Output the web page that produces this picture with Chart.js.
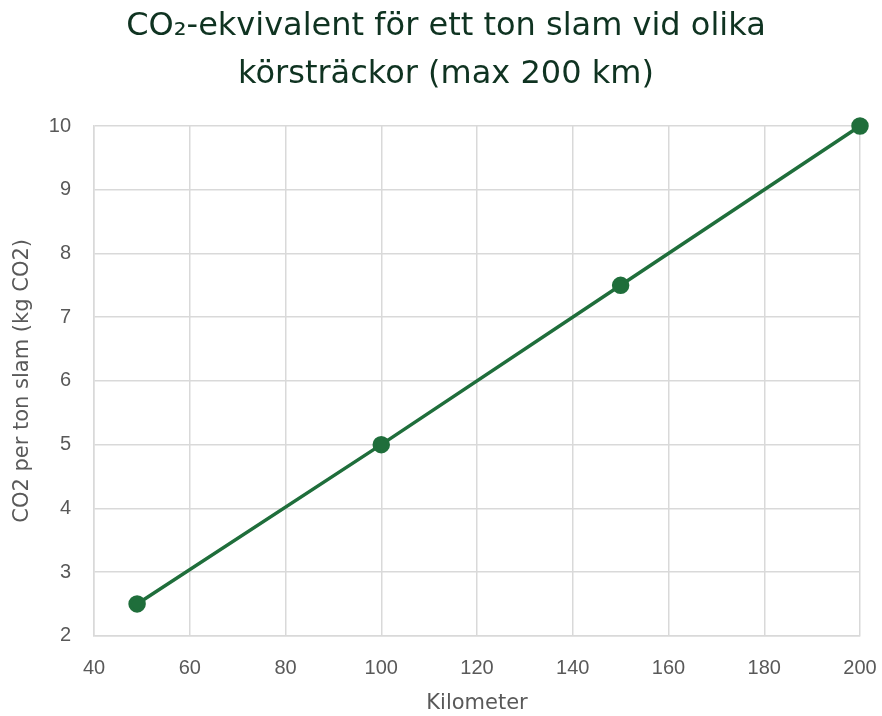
<!DOCTYPE html>
<html>
<head>
<meta charset="utf-8">
<script src="https://cdn.jsdelivr.net/npm/chart.js@4"></script>
<style>
    body { margin: 0; background: #fff; }
    #wrap { width: 882px; height: 716px; position: relative; }
</style>
</head>
<body>
<div id="wrap"><canvas id="co2-chart"></canvas></div>
<script>
// Chart data
const kilometers = [49, 100, 150, 200];
const co2Values = [2.5, 5, 7.5, 10];
const titleLines = ['CO₂-ekvivalent för ett ton slam vid olika', 'körsträckor (max 200 km)'];
const xAxisLabel = 'Kilometer';
const yAxisLabel = 'CO2 per ton slam (kg CO2)';

// Build the point list for the scatter chart
const points = kilometers.map((km, i) => ({ x: km, y: co2Values[i] }));

const lineColor = '#1f6e3b';
const gridColor = '#d9d9d9';
const tickColor = '#595959';

const ctx = document.getElementById('co2-chart').getContext('2d');

new Chart(ctx, {
    type: 'scatter',
    data: {
        datasets: [{
            data: points,
            showLine: true,
            clip: false, // let the end point overlap the plot edge
            borderColor: lineColor,
            backgroundColor: lineColor,
            borderWidth: 3.5,
            pointRadius: 7,
            pointHoverRadius: 7
        }]
    },
    options: {
        responsive: true,
        maintainAspectRatio: false,
        animation: false,
        layout: { padding: { left: 10, right: 0, top: 0, bottom: 0 } },
        plugins: {
            legend: { display: false },
            tooltip: { enabled: false },
            title: {
                display: true,
                text: titleLines,
                color: '#0f3321',
                font: { family: 'DejaVu Sans', size: 32, weight: 'normal', lineHeight: 1.5 },
                padding: { top: 3, bottom: 27 }
            }
        },
        scales: {
            x: {
                type: 'linear',
                min: 40,
                max: 200,
                ticks: {
                    stepSize: 20,
                    color: tickColor,
                    font: { family: 'Liberation Sans', size: 20 },
                    padding: 21
                },
                // keep only room for half of the last label on the right
                afterFit: scale => { scale.paddingRight = 22; },
                grid: { color: gridColor, lineWidth: 1.5, drawTicks: false },
                border: { color: gridColor, width: 1.5 },
                title: {
                    display: true,
                    text: xAxisLabel,
                    color: tickColor,
                    font: { family: 'DejaVu Sans', size: 21 },
                    padding: { top: -11, bottom: 0 }
                }
            },
            y: {
                min: 2,
                max: 10,
                ticks: {
                    stepSize: 1,
                    color: tickColor,
                    font: { family: 'Liberation Sans', size: 20 },
                    padding: 23
                },
                // fixed axis width so the plot starts at x = 94
                afterFit: scale => { scale.width = 84; },
                grid: { color: gridColor, lineWidth: 1.5, drawTicks: false },
                border: { color: gridColor, width: 1.5 },
                title: {
                    display: true,
                    text: yAxisLabel,
                    color: tickColor,
                    font: { family: 'DejaVu Sans', size: 21 },
                    padding: { top: 0, bottom: 0 }
                }
            }
        }
    }
});
</script>
</body>
</html>
